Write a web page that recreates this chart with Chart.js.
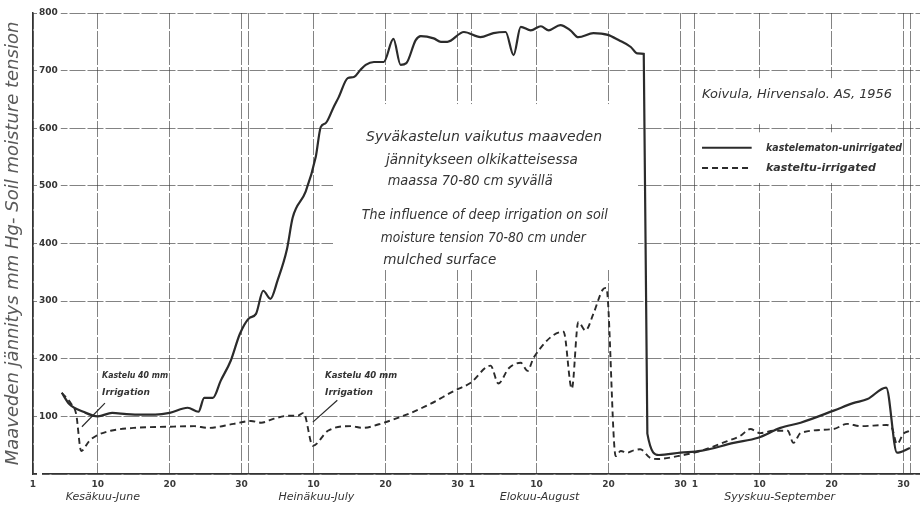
<!DOCTYPE html>
<html>
<head>
<meta charset="utf-8">
<title>Syväkastelun vaikutus maaveden jännitykseen</title>
<script src="https://cdn.jsdelivr.net/npm/chart.js@4.4.1/dist/chart.umd.min.js"></script>
<style>
  html, body { margin: 0; padding: 0; background: #fff; }
  #chart { display: block; }
</style>
</head>
<body>
<canvas id="chart" width="920" height="506"></canvas>
<script>
// day 0 = 1 June 1956, values in mm Hg
const unirrigatedDays = [4, 5, 7, 9, 11, 13, 15, 17, 19, 21.5, 23, 23.8, 25, 26.1, 27.5, 28.75, 30, 31, 32, 33, 34, 35.3, 36.1, 37.9, 39.3, 40, 40.7, 41.8, 42.5, 43.75, 44.6, 45.5, 46.25, 47.4, 48.75, 50.1, 51.1, 51.9, 53.2, 53.9, 55.7, 56.7, 57.6, 59.9, 62.2, 64, 65.7, 66.8, 67.8, 69.2, 70.6, 71.7, 73.3, 74.7, 75.8, 77.9, 79.9, 81.4, 83.1, 84, 84.9, 85.4, 87, 90, 92.8, 97.4, 100.8, 103.9, 106.7, 111.3, 114, 116, 118.6, 120.1, 121.9];
const unirrigatedValues = [141, 122, 108, 100, 106, 104, 103, 103, 106, 115, 108, 132, 132, 162, 197, 243, 270, 278, 318, 304, 336, 390, 445, 490, 550, 602, 609, 637, 654, 687, 689, 701, 710, 715, 715, 755, 710, 713, 753, 760, 756, 750, 750, 767, 758, 765, 767, 727, 776, 770, 777, 770, 779, 770, 758, 765, 762, 753, 741, 730, 729, 70, 33, 37, 40, 54, 63, 80, 89, 110, 123, 130, 150, 37, 45];

const irrigatedDays = [4, 5.3, 6, 6.7, 7.8, 8.75, 10.8, 14, 18.75, 22.4, 24.3, 27.9, 30.3, 31.7, 33.5, 35.4, 36.8, 37.6, 38.9, 41, 44.2, 45.8, 48.75, 52.5, 55.3, 58.5, 60.8, 63.6, 64.7, 66.1, 67.8, 68.75, 69.6, 73.75, 74.9, 75.8, 76.8, 77.9, 79.2, 79.7, 81, 81.7, 82.6, 83.5, 84.4, 85.8, 86.8, 89.6, 92.8, 96.5, 98.3, 99.7, 101.1, 102.9, 104.9, 105.7, 106.7, 111.25, 113.2, 115, 118.6, 119.4, 120.1, 121, 121.9];
const irrigatedValues = [141, 122, 104, 40, 57, 66, 75, 80, 82, 83, 80, 87, 92, 89, 96, 101, 101, 106, 49, 75, 83, 80, 89, 106, 122, 144, 158, 188, 157, 183, 193, 179, 202, 247, 148, 264, 249, 278, 320, 323, 31, 40, 37, 41, 43, 28, 26, 31, 40, 57, 66, 78, 71, 75, 75, 54, 71, 78, 87, 83, 85, 80, 52, 70, 75];

const tickDays = [0, 9, 19, 29, 30, 39, 49, 59, 61, 70, 80, 90, 92, 101, 111, 121, 122];
const tickLabels = ['1', '10', '20', '30', '', '10', '20', '30', '1', '10', '20', '30', '1', '10', '20', '30', ''];
const monthDays = [9.7, 39.4, 70.4, 103.8];
const monthLabels = ['Kesäkuu-June', 'Heinäkuu-July', 'Elokuu-August', 'Syyskuu-September'];

const ink = '#2b2b2b';
const gridColor = 'rgba(55,55,55,0.62)';
const titleFont = 'italic 14px "DejaVu Sans"';

// texts placed in data coordinates (day, mm Hg)
const notes = [
  { text: 'Syväkastelun vaikutus maaveden', day: 62.7, value: 585, align: 'center', font: titleFont, maxWidth: 240 },
  { text: 'jännitykseen olkikatteisessa', day: 62.4, value: 545, align: 'center', font: titleFont, maxWidth: 192 },
  { text: 'maassa 70-80 cm syvällä', day: 49.3, value: 507, align: 'left', font: titleFont, maxWidth: 165 },
  { text: 'The influence of deep irrigation on soil', day: 62.8, value: 449, align: 'center', font: titleFont, maxWidth: 246 },
  { text: 'moisture tension 70-80 cm under', day: 62.6, value: 409, align: 'center', font: titleFont, maxWidth: 205 },
  { text: 'mulched surface', day: 48.7, value: 371, align: 'left', font: titleFont, maxWidth: 113 },
  { text: 'Koivula, Hirvensalo. AS, 1956', day: 93.0, value: 658, align: 'left', font: 'italic 13px "DejaVu Sans"', maxWidth: 190 },
  { text: 'kastelematon-unirrigated', day: 101.9, value: 566, align: 'left', font: 'italic bold 11px "DejaVu Sans"', maxWidth: 136 },
  { text: 'kasteltu-irrigated', day: 101.9, value: 531, align: 'left', font: 'italic bold 11px "DejaVu Sans"', maxWidth: 111 },
  { text: 'Kastelu 40 mm', day: 9.6, value: 170, align: 'left', font: 'italic bold 9px "DejaVu Sans"', maxWidth: 66 },
  { text: 'Irrigation', day: 9.6, value: 142, align: 'left', font: 'italic bold 9px "DejaVu Sans"', maxWidth: 48 },
  { text: 'Kastelu 40 mm', day: 40.6, value: 170, align: 'left', font: 'italic bold 9px "DejaVu Sans"', maxWidth: 72 },
  { text: 'Irrigation', day: 40.6, value: 142, align: 'left', font: 'italic bold 9px "DejaVu Sans"', maxWidth: 48 }
];
const pointers = [
  { from: [10.0, 123], to: [6.8, 82] },
  { from: [42.3, 128], to: [38.9, 90] }
];
const legendItems = [
  { from: 93.0, to: 99.9, value: 566, dash: [] },
  { from: 93.0, to: 99.9, value: 531, dash: [6, 4] }
];
// the drawing left the grid blank behind its text blocks
const blankAreas = [
  { from: 41.7, to: 84.1, top: 642, bottom: 354 },
  { from: 92.3, to: 120.2, top: 687, bottom: 607 },
  { from: 92.3, to: 120.2, top: 593, bottom: 505 }
];

const notesPlugin = {
  id: 'notes',
  beforeDatasetsDraw(chart) {
    const { ctx, scales: { x, y } } = chart;
    ctx.save();
    ctx.fillStyle = '#fff';
    blankAreas.forEach(b => {
      const x1 = x.getPixelForValue(b.from), x2 = x.getPixelForValue(b.to);
      const y1 = y.getPixelForValue(b.top), y2 = y.getPixelForValue(b.bottom);
      ctx.fillRect(x1, y1, x2 - x1, y2 - y1);
    });
    ctx.restore();
  },
  afterDatasetsDraw(chart) {
    const { ctx, scales: { x, y } } = chart;
    ctx.save();
    ctx.fillStyle = '#333';
    ctx.textBaseline = 'middle';
    notes.forEach(n => {
      ctx.font = n.font;
      ctx.textAlign = n.align;
      ctx.fillText(n.text, x.getPixelForValue(n.day), y.getPixelForValue(n.value), n.maxWidth);
    });

    ctx.strokeStyle = ink;
    ctx.lineWidth = 1.2;
    pointers.forEach(p => {
      ctx.beginPath();
      ctx.moveTo(x.getPixelForValue(p.from[0]), y.getPixelForValue(p.from[1]));
      ctx.lineTo(x.getPixelForValue(p.to[0]), y.getPixelForValue(p.to[1]));
      ctx.stroke();
    });

    ctx.lineWidth = 2;
    legendItems.forEach(l => {
      ctx.setLineDash(l.dash);
      ctx.beginPath();
      ctx.moveTo(x.getPixelForValue(l.from), y.getPixelForValue(l.value));
      ctx.lineTo(x.getPixelForValue(l.to), y.getPixelForValue(l.value));
      ctx.stroke();
    });
    ctx.restore();
  }
};

const toPoints = (days, values) => days.map((d, i) => ({ x: d, y: values[i] }));

new Chart(document.getElementById('chart'), {
  type: 'line',
  data: {
    datasets: [
      {
        label: 'kastelematon-unirrigated',
        data: toPoints(unirrigatedDays, unirrigatedValues),
        borderColor: ink,
        borderWidth: 2.2,
        pointRadius: 0,
        cubicInterpolationMode: 'monotone'
      },
      {
        label: 'kasteltu-irrigated',
        data: toPoints(irrigatedDays, irrigatedValues),
        borderColor: ink,
        borderWidth: 1.9,
        borderDash: [6, 4],
        pointRadius: 0,
        cubicInterpolationMode: 'monotone'
      }
    ]
  },
  options: {
    responsive: false,
    animation: false,
    devicePixelRatio: 1,
    layout: { padding: { top: 13, left: 0, right: 0, bottom: 0 } },
    plugins: { legend: { display: false }, tooltip: { enabled: false } },
    scales: {
      x: {
        type: 'linear',
        min: 0,
        max: 123.3,
        afterBuildTicks: s => { s.ticks = tickDays.map(v => ({ value: v })); },
        afterFit: s => { s.height = 17; },
        ticks: {
          autoSkip: false,
          maxRotation: 0,
          padding: 5,
          color: '#3a3a3a',
          font: { family: 'DejaVu Sans', size: 9, weight: 'bold' },
          callback: (v, i) => tickLabels[i]
        },
        grid: { color: gridColor, lineWidth: 1, drawTicks: false },
        border: { color: '#333', width: 1.5, dash: [16, 2] }
      },
      months: {
        type: 'linear',
        position: 'bottom',
        weight: 1,
        min: 0,
        max: 123.3,
        afterBuildTicks: s => { s.ticks = monthDays.map(v => ({ value: v })); },
        afterFit: s => { s.height = 15; },
        ticks: {
          autoSkip: false,
          maxRotation: 0,
          padding: 0,
          color: '#333',
          font: { family: 'DejaVu Sans', size: 11, style: 'italic' },
          callback: (v, i) => monthLabels[i]
        },
        grid: { display: false, drawTicks: false },
        border: { display: false }
      },
      y: {
        min: 0,
        max: 800,
        afterFit: s => { s.width = 33; },
        ticks: {
          stepSize: 100,
          mirror: true,
          padding: 6,
          color: '#333',
          font: { family: 'DejaVu Sans', size: 9, weight: 'bold' },
          showLabelBackdrop: true,
          backdropColor: '#fff',
          backdropPadding: { left: 2, right: 3, top: 1, bottom: 1 },
          callback: v => v === 0 ? '' : String(v)
        },
        grid: { color: gridColor, lineWidth: 1, drawTicks: false },
        border: { color: '#333', width: 1.5, dash: [16, 2] },
        title: {
          display: true,
          text: 'Maaveden jännitys mm Hg- Soil moisture tension',
          color: '#5a5a5a',
          font: { family: 'DejaVu Sans', size: 18, style: 'italic' },
          padding: { top: 3, bottom: 0 }
        }
      }
    }
  },
  plugins: [notesPlugin]
});
</script>
</body>
</html>
